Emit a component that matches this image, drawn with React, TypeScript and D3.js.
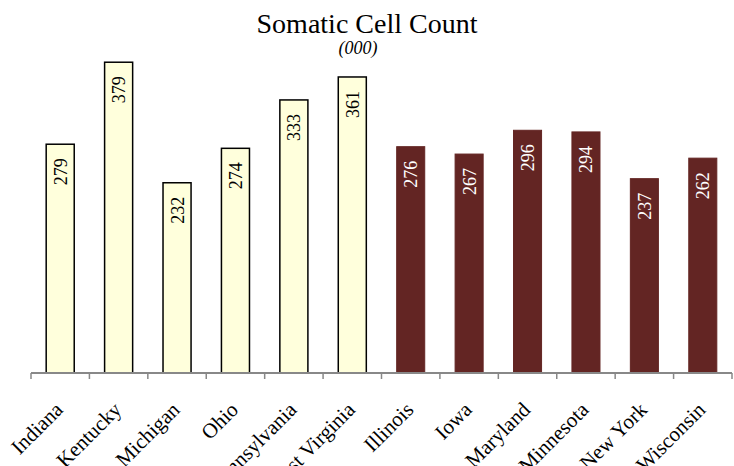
import React from "react";
import * as d3 from "d3";

const categories = ["Indiana", "Kentucky", "Michigan", "Ohio", "Pennsylvania", "West Virginia", "Illinois", "Iowa", "Maryland", "Minnesota", "New York", "Wisconsin"];
const values = [279, 379, 232, 274, 333, 361, 276, 267, 296, 294, 237, 262];
const groups = ["A", "A", "A", "A", "A", "A", "B", "B", "B", "B", "B", "B"];

const W = 734;
const H = 466;
const x0 = 31;
const x1 = 732;
const baseY = 373;

export default function App() {
  const x = d3.scaleBand<string>().domain(categories).range([x0, x1]).paddingInner(0.52).paddingOuter(0.26);
  const xb = d3.scaleBand<string>().domain(categories).range([x0, x1]);
  const y = d3.scaleLinear().domain([0, 450]).range([baseY, 4]);
  const fs = "'Times New Roman', 'Liberation Serif', serif";
  return (
    <div style={{ position: "fixed", left: 0, top: 0, width: W, height: H, background: "#fff" }}>
      <svg width={W} height={H} style={{ display: "block" }} fontFamily={fs}>
        <text x={367} y={33} textAnchor="middle" fontSize={28} fill="#000">Somatic Cell Count</text>
        <text x={358} y={54} textAnchor="middle" fontSize={18} fontStyle="italic" fill="#000">(000)</text>
        {categories.map((c, i) => {
          const bx = x(c)!;
          const bw = x.bandwidth();
          const yy = y(values[i]);
          const isA = groups[i] === "A";
          return (
            <g key={c}>
              <rect x={bx} y={yy} width={bw} height={baseY - yy}
                fill={isA ? "#FFFFDC" : "#632523"}
                stroke={isA ? "#000" : "#632523"} strokeWidth={isA ? 1.5 : 1} />
              <text transform={`translate(${bx + bw / 2 + 0.5},${yy + 14}) rotate(-90)`}
                fontSize={18} textAnchor="end" dominantBaseline="central" fill={isA ? "#000" : "#fff"}>{values[i]}</text>
            </g>
          );
        })}
        <line x1={x0} x2={x1} y1={baseY} y2={baseY} stroke="#888" strokeWidth={2} />
        {d3.range(categories.length + 1).map(i => {
          const tx = x0 + i * xb.step();
          return <line key={i} x1={tx} x2={tx} y1={baseY} y2={baseY + 6} stroke="#888" strokeWidth={1.5} />;
        })}
        {categories.map(c => {
          const cx = xb(c)! + xb.bandwidth() / 2;
          return (
            <text key={c} transform={`translate(${cx + 4},${411}) rotate(-45)`} textAnchor="end" fontSize={21} fill="#000">{c}</text>
          );
        })}
      </svg>
    </div>
  );
}
